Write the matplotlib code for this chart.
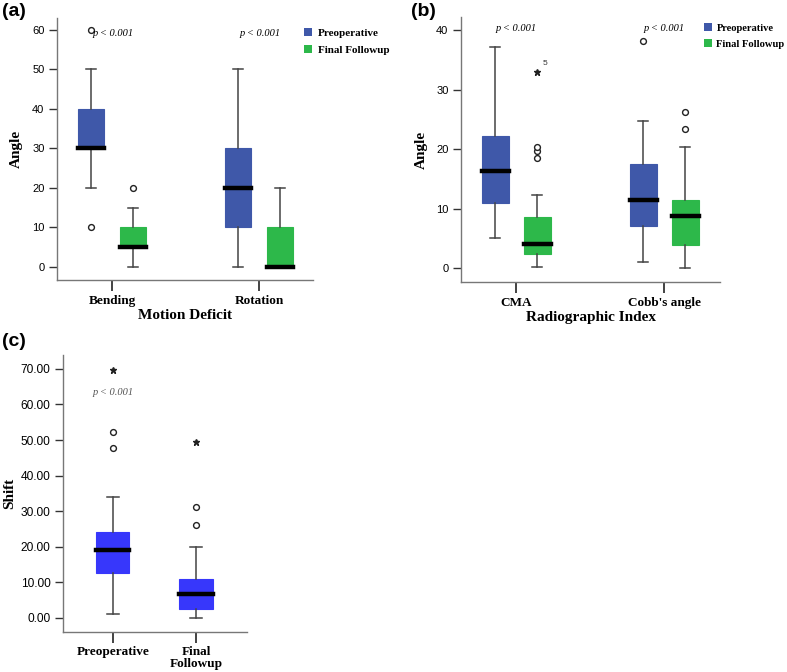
import matplotlib
matplotlib.use("Agg")
import matplotlib.pyplot as plt
from matplotlib.patches import Patch

# ---------------- data ----------------
a_groups = ["Bending", "Rotation"]
a_pre = {"whislo": [20, 0], "q1": [30, 10], "med": [30, 20], "q3": [40, 30], "whishi": [50, 50]}
a_pre_out = [[10, 60], []]
a_fin = {"whislo": [0, 0], "q1": [5, 0], "med": [5, 0], "q3": [10, 10], "whishi": [15, 20]}
a_fin_out = [[20], []]

b_groups = ["CMA", "Cobb's angle"]
b_pre = {"whislo": [5.0, 1.0], "q1": [11.0, 7.1], "med": [16.3, 11.5], "q3": [22.2, 17.5], "whishi": [37.2, 24.7]}
b_pre_out = [[], [38.1]]
b_pre_ext = [[], []]
b_fin = {"whislo": [0.2, 0.0], "q1": [2.3, 3.9], "med": [4.1, 8.7], "q3": [8.6, 11.4], "whishi": [12.3, 20.3]}
b_fin_out = [[18.5, 19.7, 20.4], [23.4, 26.2]]
b_fin_ext = [[33.0], []]

c_groups = ["Preoperative", "Final\nFollowup"]
c_stats = {"whislo": [1.0, 0.0], "q1": [12.7, 2.4], "med": [19.0, 6.8], "q3": [24.2, 10.9], "whishi": [34.0, 20.0]}
c_out = [[47.8, 52.3], [26.1, 31.3]]
c_ext = [[69.7], [49.5]]

legend_labels = ["Preoperative", "Final Followup"]
p_text = "p < 0.001"

BLUE = "#3F58A9"
GREEN = "#2DB84A"
BLUE_C = "#3737FB"
SERIF = "Liberation Serif"
SANS = "Liberation Sans"

fig = plt.figure(figsize=(7.87, 6.72), dpi=100)


def make_stats(d, i):
    return {"whislo": d["whislo"][i], "q1": d["q1"][i], "med": d["med"][i],
            "q3": d["q3"][i], "whishi": d["whishi"][i], "fliers": []}


def draw_box(ax, stats, pos, width, color):
    ax.bxp([stats], positions=[pos], widths=width, patch_artist=True,
           showfliers=False, capwidths=width * 0.38,
           boxprops=dict(facecolor=color, edgecolor=color, linewidth=0.8),
           medianprops=dict(color="black", linewidth=3.2, solid_capstyle="projecting"),
           whiskerprops=dict(color="#444444", linewidth=1.1),
           capprops=dict(color="#444444", linewidth=1.1),
           manage_ticks=False, zorder=2)


def draw_out(ax, pos, circles, stars):
    if circles:
        ax.plot([pos] * len(circles), circles, linestyle="none", marker="o", markersize=4.2,
                markerfacecolor="white", markeredgecolor="#222222", markeredgewidth=1.0, zorder=3)
    if stars:
        ax.plot([pos] * len(stars), stars, linestyle="none", marker="*", markersize=5,
                color="#222222", zorder=3)


def style_axes(ax, ylim, xlim, yticks, yfmt, fs=8):
    ax.set_ylim(*ylim)
    ax.set_xlim(*xlim)
    for s in ["top", "right"]:
        ax.spines[s].set_visible(False)
    for s in ["left", "bottom"]:
        ax.spines[s].set_color("#777777")
        ax.spines[s].set_linewidth(1.0)
    ax.set_yticks(yticks)
    ax.set_yticklabels([yfmt.format(v) for v in yticks], fontfamily=SANS, fontsize=fs)
    ax.tick_params(axis="y", length=6, width=1, color="#333333", pad=3)
    ax.tick_params(axis="x", length=8, width=1.2, color="#222222", pad=3)


# ---------------- panel (a) ----------------
axa = fig.add_axes([57 / 787, 1 - 280 / 672, 256 / 787, 262 / 672])
off, w = 0.143, 0.177
for i in range(2):
    draw_box(axa, make_stats(a_pre, i), i - off, w, BLUE)
    draw_box(axa, make_stats(a_fin, i), i + off, w, GREEN)
    draw_out(axa, i - off, a_pre_out[i], [])
    draw_out(axa, i + off, a_fin_out[i], [])
    axa.text(i + 0.01, 59.2, p_text, fontfamily=SERIF, style="italic", fontsize=7.5,
             ha="center", va="center")
style_axes(axa, (-3.3, 63.0), (-0.374, 1.367), [0, 10, 20, 30, 40, 50, 60], "{:d}")
axa.set_xticks([0, 1])
axa.set_xticklabels(a_groups, fontfamily=SERIF, fontweight="bold", fontsize=9.5)
axa.set_xlabel("Motion Deficit", fontfamily=SERIF, fontweight="bold", fontsize=11, labelpad=1)
axa.set_ylabel("Angle", fontfamily=SERIF, fontweight="bold", fontsize=11)
axa.yaxis.set_label_coords(-34 / 256, 0.5)
fig.text(2 / 787, 1 - 12 / 672, "(a)", fontfamily=SANS, fontweight="bold", fontsize=14, va="center")
axa.legend(handles=[Patch(facecolor=BLUE, label=legend_labels[0]),
                    Patch(facecolor=GREEN, label=legend_labels[1])],
           loc="upper left", bbox_to_anchor=(294 / 787, 1 - 18 / 672),
           bbox_transform=fig.transFigure, frameon=False, handlelength=0.75,
           handleheight=0.75, handletextpad=0.5, labelspacing=0.6,
           prop=dict(family=SERIF, weight="bold", size=8))

# ---------------- panel (b) ----------------
axb = fig.add_axes([461 / 787, 1 - 282 / 672, 259 / 787, 265 / 672])
off, w = 0.142, 0.182
for i in range(2):
    draw_box(axb, make_stats(b_pre, i), i - off, w, BLUE)
    draw_box(axb, make_stats(b_fin, i), i + off, w, GREEN)
    draw_out(axb, i - off, b_pre_out[i], b_pre_ext[i])
    draw_out(axb, i + off, b_fin_out[i], b_fin_ext[i])
    axb.text(i, 40.2, p_text, fontfamily=SERIF, style="italic", fontsize=7.5,
             ha="center", va="center")
axb.text(0 + 0.142 + 0.035, 34.4, "5", fontfamily=SANS, fontsize=6, ha="left", va="center",
         color="#333333")
style_axes(axb, (-2.35, 42.2), (-0.372, 1.378), [0, 10, 20, 30, 40], "{:d}")
axb.set_xticks([0, 1])
axb.set_xticklabels(b_groups, fontfamily=SERIF, fontweight="bold", fontsize=9.5)
axb.set_xlabel("Radiographic Index", fontfamily=SERIF, fontweight="bold", fontsize=11, labelpad=1)
axb.set_ylabel("Angle", fontfamily=SERIF, fontweight="bold", fontsize=11)
axb.yaxis.set_label_coords(-33 / 259, 0.5)
fig.text(411 / 787, 1 - 12 / 672, "(b)", fontfamily=SANS, fontweight="bold", fontsize=14, va="center")
axb.legend(handles=[Patch(facecolor=BLUE, label=legend_labels[0]),
                    Patch(facecolor=GREEN, label=legend_labels[1])],
           loc="upper left", bbox_to_anchor=(698 / 787, 1 - 17 / 672),
           bbox_transform=fig.transFigure, frameon=False, handlelength=0.75,
           handleheight=0.75, handletextpad=0.4, labelspacing=0.6, borderaxespad=0.2,
           prop=dict(family=SERIF, weight="bold", size=7.6))

# ---------------- panel (c) ----------------
axc = fig.add_axes([63 / 787, 1 - 632 / 672, 184 / 787, 277 / 672])
w = 0.40
for i in range(2):
    draw_box(axc, make_stats(c_stats, i), i, w, BLUE_C)
    draw_out(axc, i, c_out[i], c_ext[i])
axc.text(0, 63.3, p_text, fontfamily=SERIF, style="italic", fontsize=7.5, color="#555555",
         ha="center", va="center")
style_axes(axc, (-3.94, 73.9), (-0.60, 1.614), [0, 10, 20, 30, 40, 50, 60, 70], "{:.2f}", fs=8.6)
axc.set_xticks([0, 1])
axc.set_xticklabels(c_groups, fontfamily=SERIF, fontweight="bold", fontsize=9.5,
                    linespacing=1.0)
axc.tick_params(axis="x", pad=2)
axc.set_ylabel("Shift", fontfamily=SERIF, fontweight="bold", fontsize=11)
axc.yaxis.set_label_coords(-47 / 184, 0.5)
fig.text(2 / 787, 1 - 342 / 672, "(c)", fontfamily=SANS, fontweight="bold", fontsize=14, va="center")

fig.savefig("out.png", dpi=100)
